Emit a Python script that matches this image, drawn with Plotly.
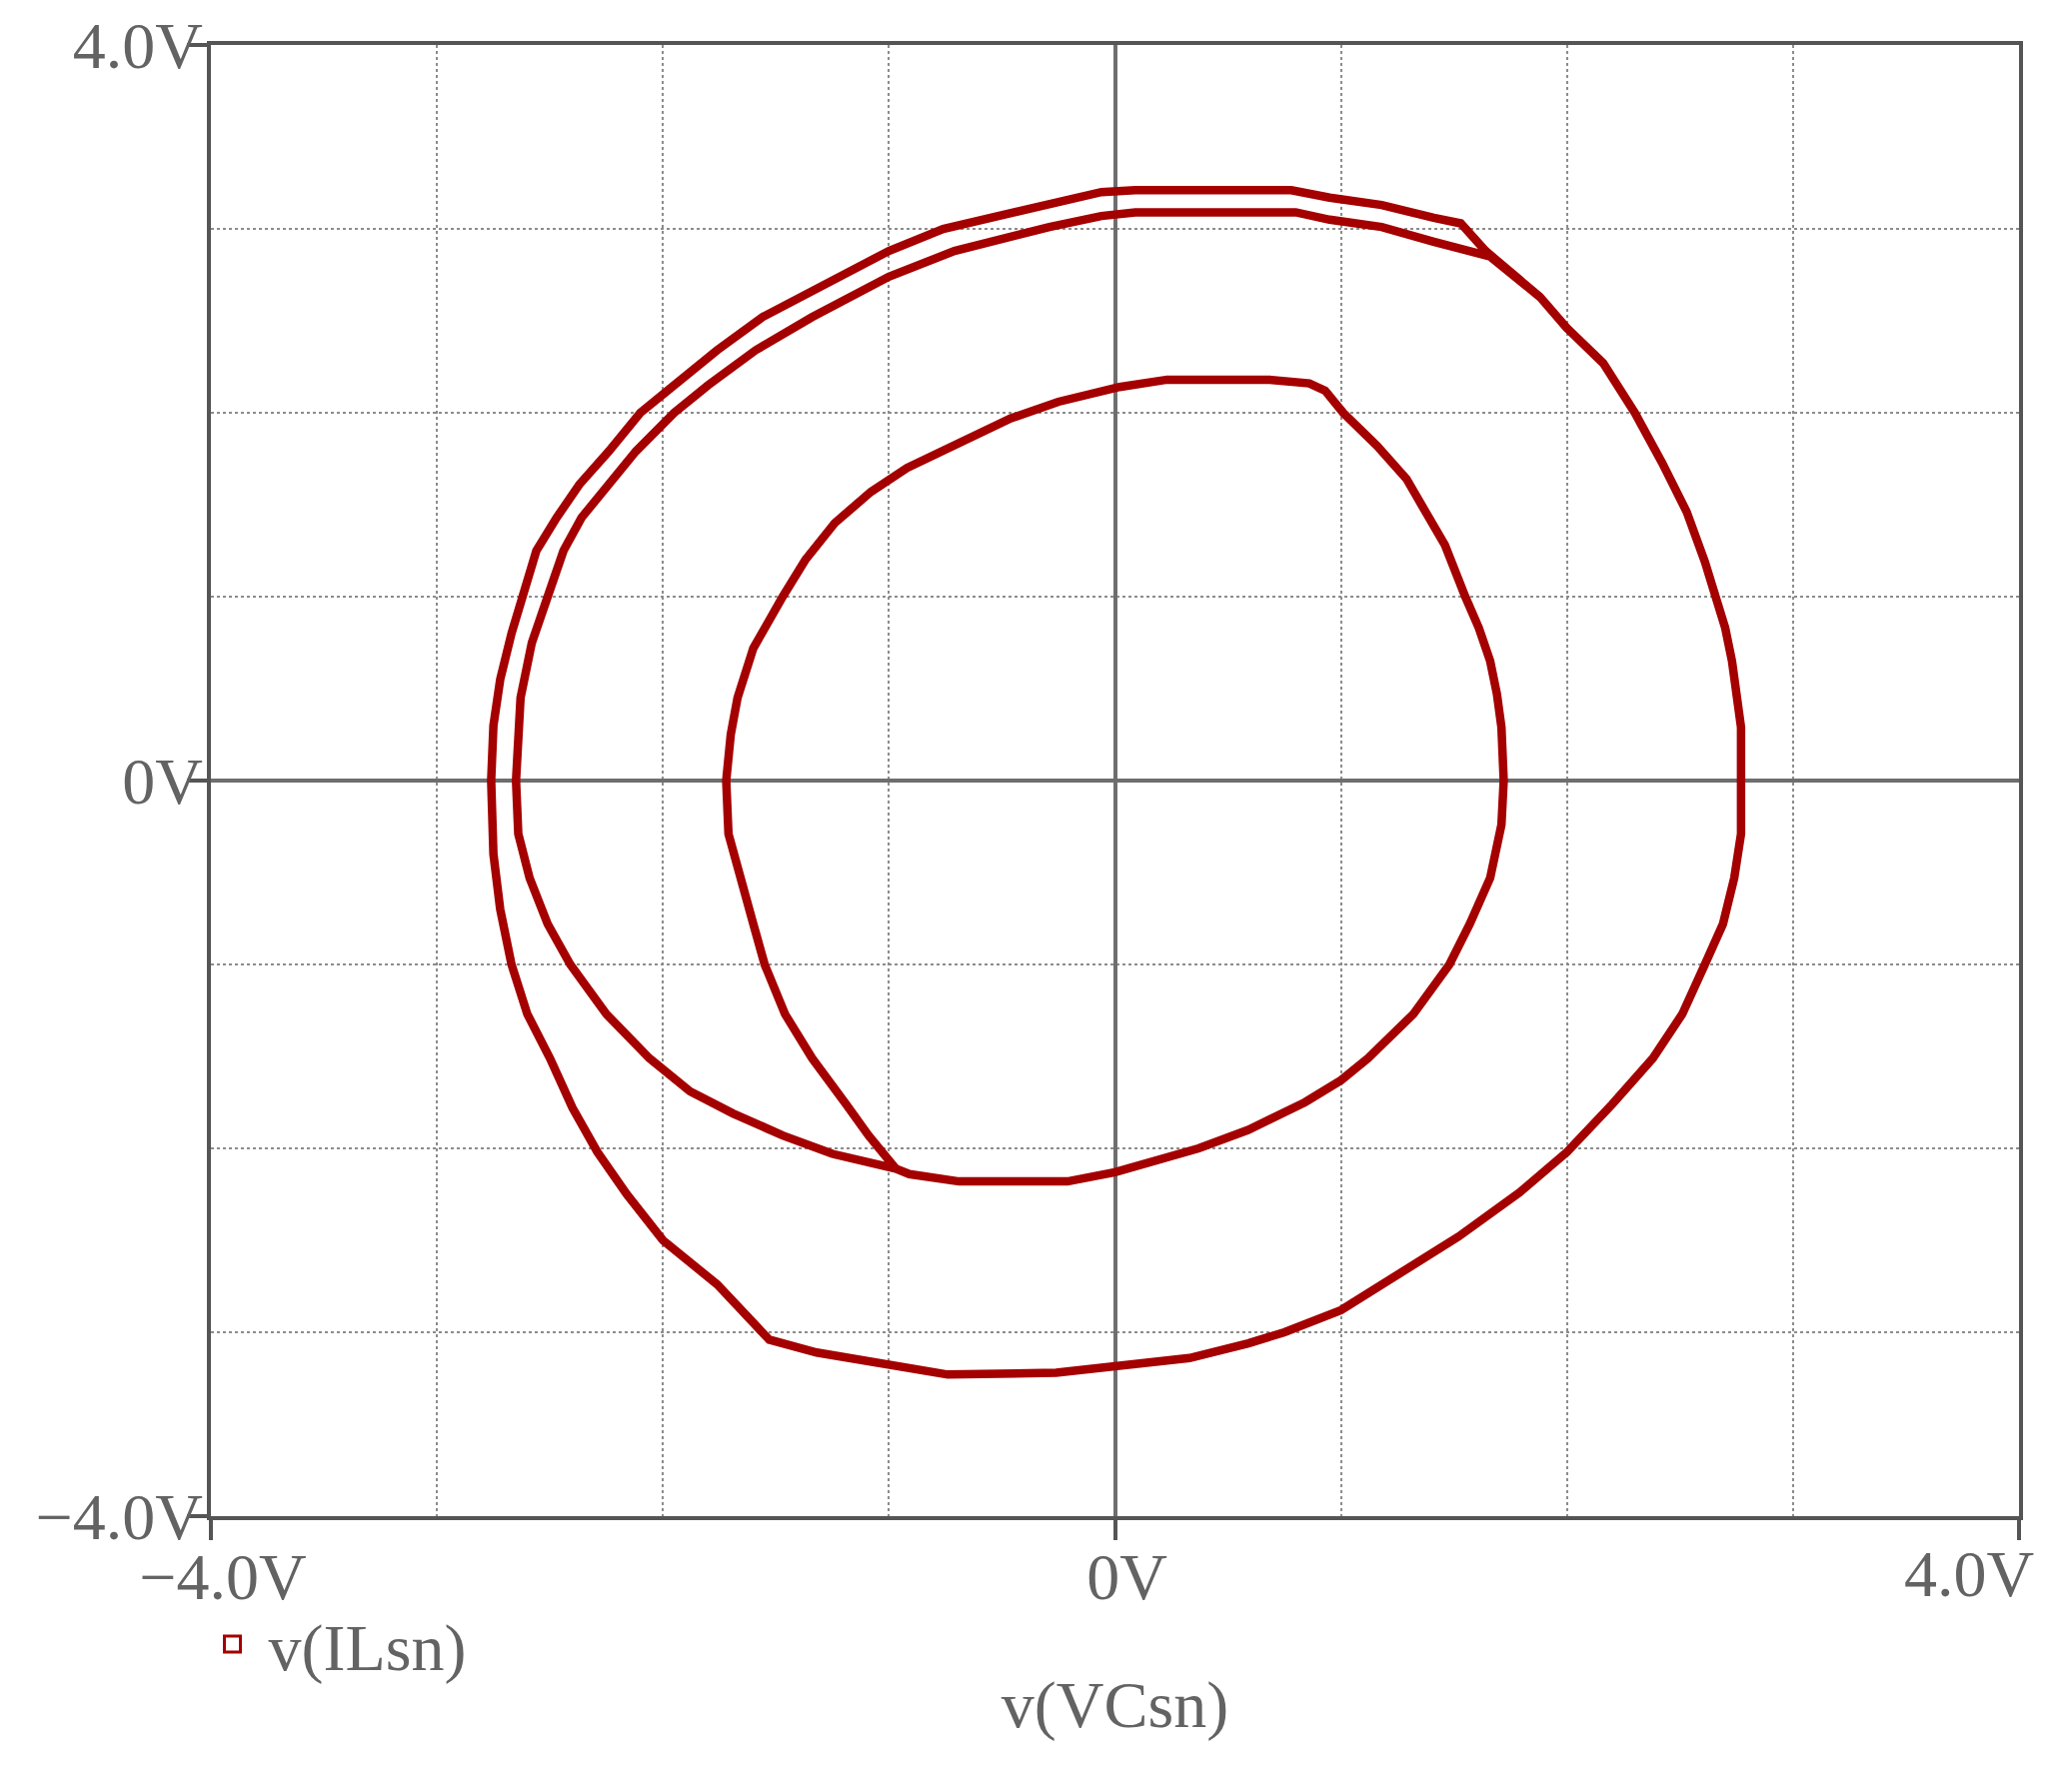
import plotly.graph_objects as go

# ---- data (volts) ----
# inner loop: starts at the junction near (-0.97, -2.11) and goes clockwise
inner_x = [-0.97, -1.09, -1.19, -1.34, -1.46, -1.55, -1.60, -1.66, -1.71, -1.72,
           -1.70, -1.67, -1.60, -1.47, -1.37, -1.24, -1.08, -0.92, -0.69, -0.46,
           -0.25, 0.02, 0.23, 0.68, 0.86, 0.93, 1.01, 1.16, 1.29, 1.38,
           1.46, 1.55, 1.61, 1.66, 1.69, 1.71, 1.72, 1.71, 1.66, 1.57,
           1.48, 1.32, 1.12, 1.00, 0.84, 0.59, 0.37, 0.00, -0.21, -0.69,
           -0.91, -0.97]
inner_y = [-2.11, -1.93, -1.76, -1.51, -1.27, -1.00, -0.78, -0.53, -0.29, 0.00,
           0.25, 0.45, 0.72, 1.00, 1.20, 1.40, 1.57, 1.70, 1.84, 1.97,
           2.06, 2.14, 2.18, 2.18, 2.16, 2.12, 2.00, 1.82, 1.64, 1.46,
           1.28, 1.00, 0.83, 0.65, 0.47, 0.29, 0.00, -0.24, -0.53, -0.78,
           -1.00, -1.27, -1.51, -1.63, -1.75, -1.90, -2.00, -2.13, -2.18, -2.18,
           -2.14, -2.11]

# middle pass: from the junction out to the left, over the top, merging on the right
middle_x = [-1.25, -1.47, -1.69, -1.88, -2.06, -2.25, -2.41, -2.51, -2.59, -2.64,
            -2.65, -2.63, -2.58, -2.51, -2.44, -2.36, -2.24, -2.12, -1.95, -1.80,
            -1.59, -1.34, -1.00, -0.71, -0.29, -0.06, 0.09, 0.80, 0.95, 1.18,
            1.41, 1.56, 1.66]
middle_y = [-2.03, -1.93, -1.81, -1.69, -1.51, -1.27, -1.00, -0.78, -0.53, -0.29,
            0.00, 0.45, 0.75, 1.00, 1.25, 1.43, 1.61, 1.79, 2.00, 2.15,
            2.34, 2.52, 2.74, 2.88, 3.01, 3.07, 3.09, 3.09, 3.05, 3.01,
            2.93, 2.88, 2.85]

# outer limit cycle
outer_x = [1.88, 2.00, 2.16, 2.30, 2.42, 2.53, 2.61, 2.66, 2.70, 2.73,
           2.75, 2.77, 2.77, 2.77, 2.74, 2.69, 2.61, 2.51, 2.38, 2.20,
           2.00, 1.79, 1.52, 1.20, 1.00, 0.75, 0.59, 0.33, 0.00, -0.26,
           -0.74, -1.00, -1.32, -1.53, -1.76, -2.00, -2.16, -2.29, -2.40, -2.50,
           -2.60, -2.67, -2.72, -2.75, -2.76, -2.75, -2.72, -2.67, -2.62, -2.56,
           -2.47, -2.37, -2.24, -2.10, -1.95, -1.76, -1.56, -1.27, -1.00, -0.76,
           -0.49, -0.29, -0.06, 0.09, 0.78, 0.95, 1.18, 1.41, 1.53, 1.64,
           1.88, 2.00]
outer_y = [2.63, 2.46, 2.27, 2.00, 1.73, 1.46, 1.19, 1.00, 0.83, 0.65,
           0.47, 0.29, 0.00, -0.29, -0.53, -0.78, -1.00, -1.27, -1.51, -1.76,
           -2.02, -2.24, -2.48, -2.73, -2.88, -3.00, -3.06, -3.14, -3.19, -3.22,
           -3.23, -3.18, -3.11, -3.04, -2.74, -2.50, -2.25, -2.02, -1.78, -1.51,
           -1.27, -1.00, -0.70, -0.40, 0.00, 0.30, 0.55, 0.80, 1.00, 1.25,
           1.43, 1.61, 1.79, 2.00, 2.15, 2.34, 2.52, 2.70, 2.88, 3.00,
           3.08, 3.13, 3.20, 3.21, 3.21, 3.17, 3.13, 3.06, 3.03, 2.88,
           2.63, 2.46]

tick_vals = [-4, 0, 4]
x_tick_text = ["\u22124.0V", "0V", ""]
x_end_val = [4]
x_end_text = ["4.0V"]
y_tick_text = ["\u22124.0V", "0V", "4.0V"]
series_name = "v(ILsn)"
x_title = "v(VCsn)"

# ---- styling ----
RED = "#A50000"
TXT = "#636363"
AX = "#555555"
FONT = "Liberation Serif"
FS = 66

traj_x = inner_x + middle_x + outer_x
traj_y = inner_y + middle_y + outer_y

fig = go.Figure()
fig.add_trace(go.Scatter(x=traj_x, y=traj_y, mode="lines",
                         line=dict(color=RED, width=8.5),
                         showlegend=False, hoverinfo="skip"))
fig.add_trace(go.Scatter(x=[None], y=[None], mode="markers", name=series_name,
                         xaxis="x2",
                         marker=dict(symbol="square-open", size=16, color=RED,
                                     line=dict(color=RED, width=3)),
                         showlegend=True))

tickfont = dict(family=FONT, size=FS, color=TXT)
axis_common = dict(
    range=[-4, 4], tickmode="array", tickvals=tick_vals,
    ticks="outside", ticklen=20, tickwidth=4, tickcolor=AX,
    showgrid=False,
    showline=True, linecolor=AX, linewidth=4, mirror=True,
    zeroline=True, zerolinecolor="#6e6e6e", zerolinewidth=4,
    minor=dict(tickmode="linear", tick0=0, dtick=1, showgrid=True,
               gridcolor="#8c8c8c", gridwidth=2, griddash="dot", ticks=""),
    tickfont=tickfont,
    ticklabeloverflow="allow",
    automargin=False,
    fixedrange=True,
)

# page body adds ~8px offset, so the figure is sized to fit inside the window
W, H = 2057, 1756
fig.update_layout(
    width=W, height=H, autosize=False,
    margin=dict(l=203, r=W - 2012, t=37, b=H - 1509),
    paper_bgcolor="white", plot_bgcolor="white",
    xaxis=dict(axis_common, ticktext=x_tick_text, ticklabelstandoff=-20,
               ticklabelshift=12,
               title=dict(text=x_title, font=dict(family=FONT, size=FS, color=TXT),
                          standoff=70)),
    xaxis2=dict(overlaying="x", anchor="y", side="bottom", range=[-4, 4],
                tickmode="array", tickvals=x_end_val, ticktext=x_end_text,
                ticks="outside", ticklen=20, tickwidth=4, tickcolor=AX,
                showline=False, showgrid=False, zeroline=False,
                tickfont=tickfont, ticklabelstandoff=-20, ticklabelshift=-50,
                ticklabeloverflow="allow", automargin=False, fixedrange=True),
    yaxis=dict(axis_common, ticktext=y_tick_text, ticklabelstandoff=-29),
    legend=dict(x=-0.008, y=-0.087, xanchor="left", yanchor="middle",
                font=dict(family=FONT, size=FS, color=TXT), itemwidth=62,
                bgcolor="rgba(0,0,0,0)", borderwidth=0, itemsizing="trace"),
    showlegend=True,
)

fig.write_html("out.html")
